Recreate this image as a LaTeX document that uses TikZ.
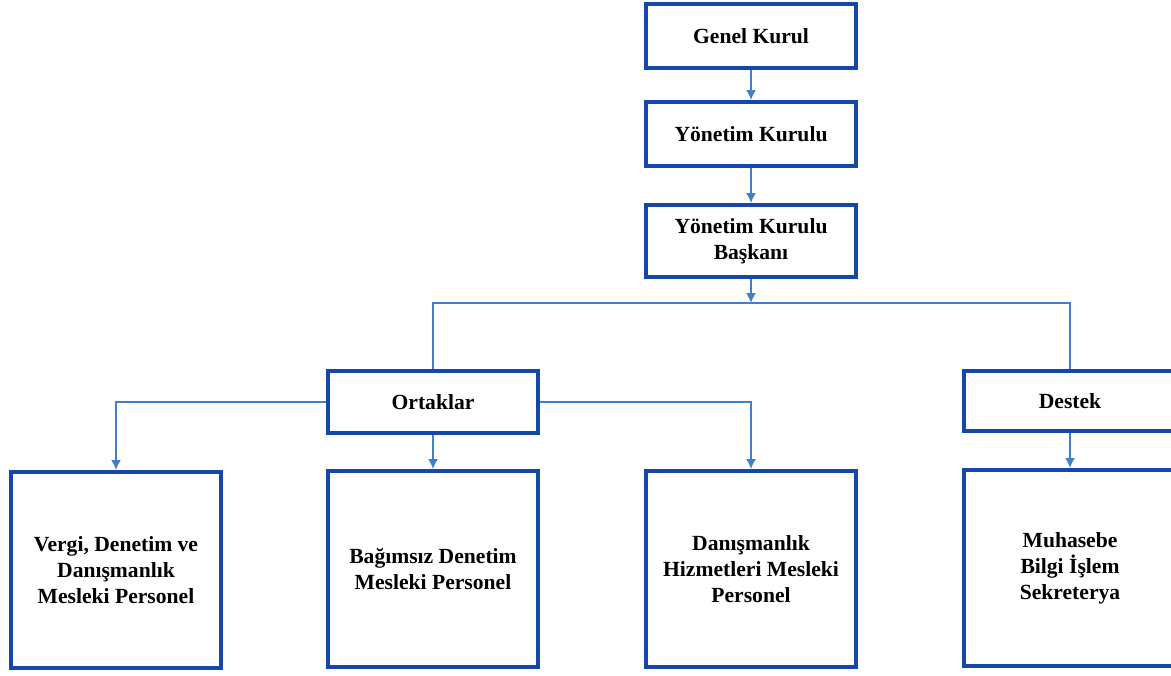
\documentclass[tikz,border=0pt]{standalone}
\usepackage{fontspec}
\setmainfont{Liberation Serif}
\usetikzlibrary{arrows.meta}

\definecolor{kutumavi}{RGB}{20,72,168}
\definecolor{cizgimavi}{RGB}{62,128,204}

\tikzset{
  kutu/.style={shape=rectangle, draw=kutumavi, line width=2pt, align=center,
               font=\fontsize{10.8}{13}\selectfont\bfseries, inner sep=2pt},
  bag/.style={draw=cizgimavi, line width=0.8pt}
}

\begin{document}
\begin{tikzpicture}[x=0.5pt, y=-0.5pt, >={Latex[length=5pt,width=5pt]}]
  \useasboundingbox (0,0) rectangle (1171,675);

  \node (genel)    at (751,36)  [kutu, minimum width=105pt, minimum height=32pt] {Genel Kurul};
  \node (yonetim)  at (751,134) [kutu, minimum width=105pt, minimum height=32pt] {Yönetim Kurulu};
  \node (baskan)   at (751,241) [kutu, minimum width=105pt, minimum height=36pt] {Yönetim Kurulu\\Başkanı};
  \node (ortak)    at (433,402) [kutu, minimum width=105pt, minimum height=31pt] {Ortaklar};
  \node (destek)   at (1070,401)[kutu, minimum width=106pt, minimum height=30pt] {Destek};

  \node (vergi)    at (116,570) [kutu, minimum width=105pt, minimum height=98pt] {Vergi, Denetim ve\\Danışmanlık\\Mesleki Personel};
  \node (bagimsiz) at (433,569) [kutu, minimum width=105pt, minimum height=98pt] {Bağımsız Denetim\\Mesleki Personel};
  \node (danis)    at (751,569) [kutu, minimum width=105pt, minimum height=98pt] {Danışmanlık\\Hizmetleri Mesleki\\Personel};
  \node (muhasebe) at (1070,568)[kutu, minimum width=106pt, minimum height=98pt] {Muhasebe\\Bilgi İşlem\\Sekreterya};

  \coordinate (ayrim) at (751,303);

  \draw [bag,->] (genel) -- (yonetim);
  \draw [bag,->] (yonetim) -- (baskan);
  \draw [bag,->] (baskan) -- (ayrim);
  \draw [bag] (ortak.north) |- (ayrim) -| (destek.north);

  \draw [bag,->] (ortak.west) -| (vergi.north);
  \draw [bag,->] (ortak) -- (bagimsiz);
  \draw [bag,->] (ortak.east) -| (danis.north);
  \draw [bag,->] (destek) -- (muhasebe);
\end{tikzpicture}
\end{document}
